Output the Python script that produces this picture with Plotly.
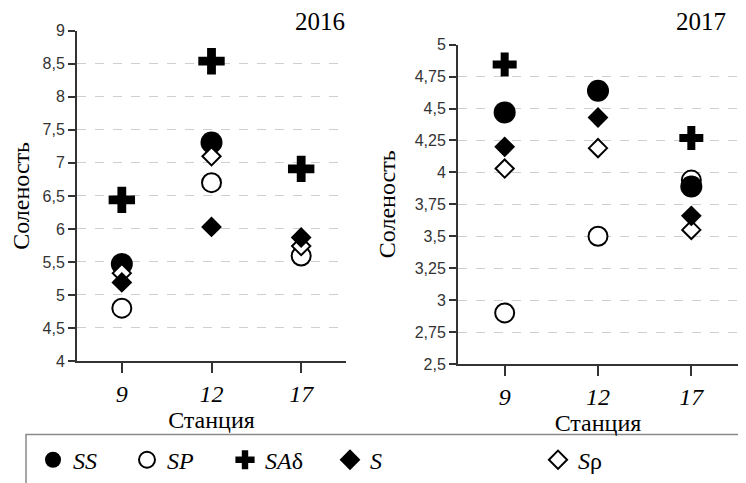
import plotly.graph_objects as go

# ---------------- data ----------------
stations = ["9", "12", "17"]

ss_2016 = [5.47, 7.31, None]
sp_2016 = [4.80, 6.70, 5.59]
sad_2016 = [6.44, 8.54, 6.91]
s_2016 = [5.19, 6.03, 5.87]
srho_2016 = [5.33, 7.10, 5.74]

ss_2017 = [4.47, 4.64, 3.89]
sp_2017 = [2.90, 3.50, 3.94]
sad_2017 = [4.845, 5.025, 4.27]
s_2017 = [4.20, 4.43, 3.66]
srho_2017 = [4.03, 4.19, 3.55]

ytick_2016 = [4, 4.5, 5, 5.5, 6, 6.5, 7, 7.5, 8, 8.5, 9]
ytext_2016 = ["4", "4,5", "5", "5,5", "6", "6,5", "7", "7,5", "8", "8,5", "9"]
ytick_2017 = [2.5, 2.75, 3, 3.25, 3.5, 3.75, 4, 4.25, 4.5, 4.75, 5]
ytext_2017 = ["2,5", "2,75", "3", "3,25", "3,5", "3,75", "4", "4,25", "4,5", "4,75", "5"]

names = {"ss": "<i>SS</i>", "sp": "<i>SP</i>", "sad": "<i>SA</i>δ", "s": "<i>S</i>", "srho": "<i>S</i>ρ"}

# ---------------- styles ----------------
OFF = 8                      # page body margin
W, H = 746 - OFF, 483 - OFF
SERIF = "Liberation Serif"
SANS = "Liberation Sans"
AX = "#333333"

styles = {
    "sp": dict(symbol="circle", color="white", size=19, line=dict(color="black", width=2)),
    "ss": dict(symbol="circle", color="black", size=22, line=dict(width=0)),
    "sad": dict(symbol="cross", color="black", size=22, line=dict(width=0)),
    "srho": dict(symbol="diamond", color="white", size=14, line=dict(color="black", width=2)),
    "s": dict(symbol="diamond", color="black", size=16, line=dict(width=0)),
}
legend_slot = {"ss": "legend", "sp": "legend2", "sad": "legend3", "s": "legend4", "srho": "legend5"}
legend_sym_x = {"ss": 53, "sp": 147, "sad": 245, "s": 350, "srho": 558}

fig = go.Figure()

data16 = {"sp": sp_2016, "ss": ss_2016, "sad": sad_2016, "srho": srho_2016, "s": s_2016}
data17 = {"sp": sp_2017, "ss": ss_2017, "sad": sad_2017, "srho": srho_2017, "s": s_2017}

for key in ["sp", "ss", "sad", "srho", "s"]:
    st = dict(styles[key])
    fig.add_trace(go.Scatter(
        x=stations, y=data16[key], mode="markers", name=names[key],
        marker=st, xaxis="x", yaxis="y", cliponaxis=False,
        showlegend=True, legend=legend_slot[key], hoverinfo="skip"))
for key in ["sp", "ss", "sad", "srho", "s"]:
    st = dict(styles[key])
    if key == "sad":
        st["size"] = 20
    fig.add_trace(go.Scatter(
        x=stations, y=data17[key], mode="markers", name=names[key],
        marker=st, xaxis="x2", yaxis="y2", cliponaxis=False,
        showlegend=False, hoverinfo="skip"))

def px_x(v):
    return (v - OFF) / W

def px_y(v):
    return 1 - (v - OFF) / H

common_x = dict(
    type="category", categoryorder="array", categoryarray=stations, range=[-0.5, 2.5],
    showline=True, linecolor=AX, linewidth=2, ticks="outside", ticklen=10, tickwidth=2,
    tickcolor=AX, showgrid=False, zeroline=False,
    tickfont=dict(family=SERIF, size=24, color="black", style="italic"),
    title=dict(text="Станция", font=dict(family=SERIF, size=24, color="black"), standoff=0),
    automargin=False,
)
common_y = dict(
    showline=True, linecolor=AX, linewidth=2, ticks="outside", ticklen=7, tickwidth=1.5,
    tickcolor=AX, showgrid=True, gridcolor="#cfcfcf", griddash="dash", gridwidth=1,
    zeroline=False, tickfont=dict(family=SANS, size=16, color=AX),
    automargin=False,
)

layout_legends = {}
for key, slot in legend_slot.items():
    layout_legends[slot] = dict(
        x=px_x(legend_sym_x[key] - 20), xanchor="left", y=px_y(464), yanchor="middle",
        bgcolor="rgba(0,0,0,0)", borderwidth=0, orientation="h",
        font=dict(family=SERIF, size=24, color="black"), itemsizing="trace")

fig.update_layout(
    width=W, height=H, margin=dict(l=0, r=0, t=0, b=0),
    paper_bgcolor="white", plot_bgcolor="white",
    xaxis=dict(common_x, domain=[px_x(77), px_x(346)], anchor="y"),
    yaxis=dict(common_y, domain=[px_y(364), px_y(31)], anchor="x", range=[4, 9],
               tickvals=ytick_2016, ticktext=ytext_2016,
               title=dict(text="Соленость", font=dict(family=SERIF, size=24, color="black"), standoff=14)),
    xaxis2=dict(common_x, domain=[px_x(458), px_x(738)], anchor="y2"),
    yaxis2=dict(common_y, domain=[px_y(367), px_y(45)], anchor="x2", range=[2.5, 5],
                tickvals=ytick_2017, ticktext=ytext_2017,
                title=dict(text="Соленость", font=dict(family=SERIF, size=24, color="black"), standoff=12)),
    **layout_legends,
)

fig.add_annotation(text="2016", x=px_x(320), y=px_y(22), xref="paper", yref="paper",
                   showarrow=False, font=dict(family=SERIF, size=25, color="black"),
                   xanchor="center", yanchor="middle")
fig.add_annotation(text="2017", x=px_x(701), y=px_y(22), xref="paper", yref="paper",
                   showarrow=False, font=dict(family=SERIF, size=25, color="black"),
                   xanchor="center", yanchor="middle")

# legend frame
fig.add_shape(type="rect", xref="paper", yref="paper",
              x0=px_x(26), x1=1.05, y0=-0.1, y1=px_y(438),
              line=dict(color="#8a8a8a", width=1.5), fillcolor="rgba(0,0,0,0)", layer="below")

fig.write_html("out.html")
